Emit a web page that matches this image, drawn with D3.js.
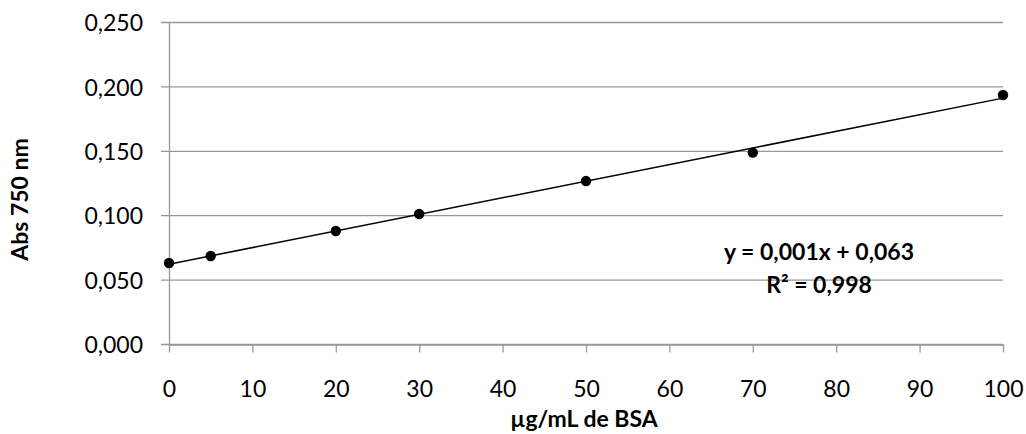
<!DOCTYPE html>
<html>
<head>
<meta charset="utf-8">
<script src="https://cdn.jsdelivr.net/npm/d3@7"></script>
<style>
  body { margin: 0; background: #fff; }
  svg text { font-family: Lato, "Open Sans", sans-serif; fill: #000; }
</style>
</head>
<body>
<svg id="chart" width="1026" height="434"></svg>
<script>
const concentrations = [0, 5, 20, 30, 50, 70, 100];
const absorbances = [0.0633, 0.0687, 0.0881, 0.1013, 0.1269, 0.149, 0.1937];
const xTicks = [0, 10, 20, 30, 40, 50, 60, 70, 80, 90, 100];
const yTicks = [0, 0.05, 0.1, 0.15, 0.2, 0.25];
const equationLines = ['y = 0,001x + 0,063', 'R² = 0,998'];

const svg = d3.select('#chart');
const x = d3.scaleLinear().domain([0, 100]).range([169, 1003]);
const y = d3.scaleLinear().domain([0, 0.25]).range([344.5, 22.5]);
const fmt = (v) => d3.format('.3f')(v).replace('.', ',');

// grid lines
svg.append('g')
  .selectAll('line')
  .data(yTicks)
  .join('line')
  .attr('x1', 161).attr('x2', 1003)
  .attr('y1', (d) => y(d)).attr('y2', (d) => y(d))
  .attr('stroke', '#989898').attr('stroke-width', 1.3);

// y axis
svg.append('g')
  .attr('transform', 'translate(169,0)')
  .call(d3.axisLeft(y).tickValues(yTicks).tickFormat(fmt).tickSize(0).tickPadding(26))
  .call((g) => g.select('.domain').attr('stroke', '#989898').attr('stroke-width', 1.3))
  .call((g) => g.selectAll('.tick text').attr('font-size', 23).attr('dy', '0.36em'));

// x axis
svg.append('g')
  .attr('transform', 'translate(0,344.5)')
  .call(d3.axisBottom(x).tickValues(xTicks).tickSize(8).tickSizeOuter(0))
  .call((g) => g.select('.domain').attr('stroke', '#989898').attr('stroke-width', 1.3))
  .call((g) => g.selectAll('.tick line').attr('stroke', '#989898').attr('stroke-width', 1.3))
  .call((g) => g.selectAll('.tick text').attr('font-size', 23).attr('y', 52.5).attr('dy', 0));

// linear trend line
const reg = (() => {
  const mx = d3.mean(concentrations), my = d3.mean(absorbances);
  const sxy = d3.sum(concentrations, (c, i) => (c - mx) * (absorbances[i] - my));
  const sxx = d3.sum(concentrations, (c) => (c - mx) ** 2);
  const slope = sxy / sxx;
  return { slope, intercept: my - slope * mx };
})();
svg.append('line')
  .attr('x1', x(0)).attr('y1', y(reg.intercept))
  .attr('x2', x(100)).attr('y2', y(reg.intercept + reg.slope * 100))
  .attr('stroke', '#000').attr('stroke-width', 1.5);

// points
svg.append('g')
  .selectAll('circle')
  .data(concentrations)
  .join('circle')
  .attr('cx', (d) => x(d))
  .attr('cy', (d, i) => y(absorbances[i]))
  .attr('r', 5.2)
  .attr('fill', '#000');

// equation label
svg.append('g')
  .selectAll('text')
  .data(equationLines)
  .join('text')
  .attr('x', 819)
  .attr('y', (d, i) => 260 + i * 33)
  .attr('text-anchor', 'middle')
  .attr('font-size', 23)
  .attr('font-weight', 'bold')
  .text((d) => d);

// axis titles
svg.append('text')
  .attr('x', 584).attr('y', 427)
  .attr('text-anchor', 'middle')
  .attr('font-size', 23).attr('font-weight', 'bold')
  .text('µg/mL de BSA');

svg.append('text')
  .attr('transform', 'translate(28,199.5) rotate(-90)')
  .attr('text-anchor', 'middle')
  .attr('font-size', 23).attr('font-weight', 'bold')
  .text('Abs 750 nm');
</script>
</body>
</html>
